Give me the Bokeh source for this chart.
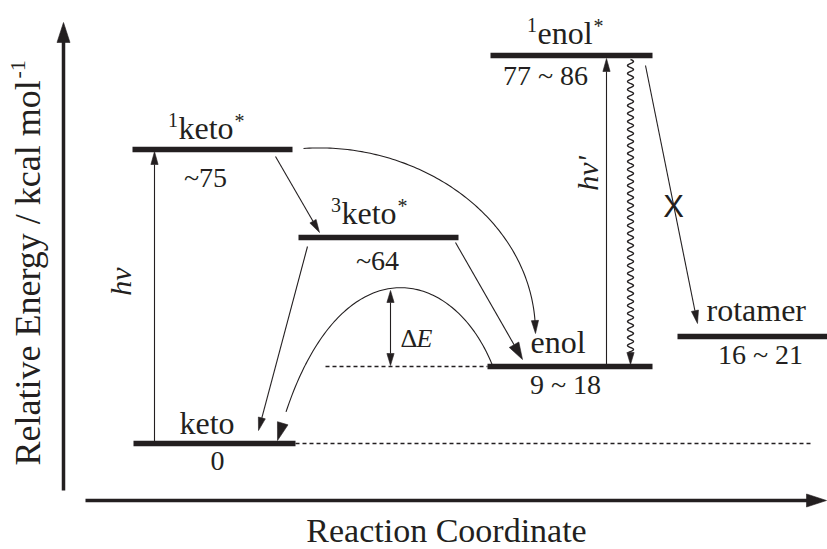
import numpy as np
from bokeh.plotting import figure
from bokeh.models import Range1d
from bokeh.core.properties import value
from bokeh.embed import file_html
from bokeh.resources import INLINE

# ---- energy levels (schematic diagram heights, y grows upward) ----
level_names = ["keto", "keto", "keto", "enol", "enol", "rotamer"]
level_spin = ["", "1", "3", "", "1", ""]
level_star = ["", "*", "*", "", "*", ""]
level_energy = ["0", "~75", "~64", "9 ~ 18", "77 ~ 86", "16 ~ 21"]
level_x0 = [133, 132, 298, 487, 490, 677]
level_x1 = [295, 292, 458, 652, 652, 827]
level_y = [106, 400, 312, 183, 494, 213]

# text baselines of each level's name and energy
name_x = [179, 178, 341, 530, 537, 706]
name_base = [116, 411, 326, 197, 506, 229]
energy_cx = [217, 205, 377, 565, 545, 760]
energy_base = [79, 362, 279, 155, 464, 185]

# ---- transitions ----
straight_from = [(275, 393), (307, 303), (455, 307), (645, 484)]
straight_to = [(319, 317), (258, 119), (522, 190), (697, 226)]
big_head = [False, False, True, False]

# curved paths as cubic Bezier control points (start, c1, c2, end)
curve_isc_enol = [(303, 401), (420, 409), (535, 329), (535, 216)]
curve_barrier = [(492, 184), (450, 289), (330, 309), (277, 109)]

INK = "#231f20"
SERIF = "Liberation Serif"
SANS = "Liberation Sans"
MID = 0.34  # distance from alphabetic baseline to em-box middle, in em

W = 827
H = 549
p = figure(width=W, height=H, x_range=Range1d(0, W), y_range=Range1d(0, H),
           output_backend="svg", toolbar_location=None, min_border=0,
           x_axis_location=None, y_axis_location=None)
p.grid.visible = False
p.outline_line_color = None
p.background_fill_color = "white"
p.border_fill_color = "white"

# Times advance widths (em) for placing superscripts
ADV = {"R": .667, "e": .444, "l": .278, "a": .444, "t": .278, "i": .278, "v": .5,
       " ": .25, "E": .611, "n": .5, "r": .333, "g": .5, "y": .5, "/": .278,
       "k": .5, "c": .444, "m": .778, "o": .5, "1": .5, "-": .333, "3": .5}


def text_width(s, size):
    return sum(ADV.get(ch, .5) for ch in s) * size


def put_text(xs, bases, texts, size, align="left", style="normal", font=SERIF):
    ys = [b + MID * size for b in bases]
    p.text(x=xs, y=ys, text=texts, text_font=value(font), text_font_size=f"{size}px",
           text_font_style=style, text_align=align, text_baseline="middle",
           text_color=INK)


heads_x, heads_y = [], []


def add_head(tip, frm, length=13, half=3.6):
    tx, ty = tip
    dx, dy = tx - frm[0], ty - frm[1]
    n = np.hypot(dx, dy)
    dx, dy = dx / n, dy / n
    bx, by = tx - length * dx, ty - length * dy
    heads_x.append([tx, bx - half * dy, bx + half * dy])
    heads_y.append([ty, by + half * dx, by - half * dx])
    return bx, by


def bezier(ctrl, n=120):
    t = np.linspace(0, 1, n)[:, None]
    P = np.array(ctrl, dtype=float)
    pts = ((1 - t) ** 3) * P[0] + 3 * ((1 - t) ** 2) * t * P[1] + 3 * (1 - t) * t ** 2 * P[2] + t ** 3 * P[3]
    return pts[:, 0], pts[:, 1]


# ---- axes drawn as arrows ----
p.line([63, 63], [59, 512], line_color=INK, line_width=3.5)
add_head((63, 527), (63, 59), length=20, half=6.5)
p.line([85, 810], [49, 49], line_color=INK, line_width=3.5)
add_head((826, 49), (85, 49), length=20, half=6.5)

# ---- dashed reference lines ----
p.line([295, 810], [106, 106], line_color=INK, line_width=1.4, line_dash="4 3")
p.line([325, 487], [183, 183], line_color=INK, line_width=1.4, line_dash="4 3")

# ---- energy levels ----
p.segment(x0=level_x0, y0=level_y, x1=level_x1, y1=level_y, line_color=INK, line_width=5.5)

NAME_SIZE = 32
SUP_SIZE = 20
ENERGY_SIZE = 28
put_text(name_x, name_base, level_names, NAME_SIZE)
sup_x, sup_b, sup_t, star_x, star_b, star_t = [], [], [], [], [], []
for nm, sp, st, x, b in zip(level_names, level_spin, level_star, name_x, name_base):
    if sp:
        sup_x.append(x - 0.5)
        sup_b.append(b + 12)
        sup_t.append(sp)
    if st:
        star_x.append(x + text_width(nm, NAME_SIZE) + 1)
        star_b.append(b + 11)
        star_t.append(st)
put_text(sup_x, sup_b, sup_t, SUP_SIZE, align="right")
put_text(star_x, star_b, star_t, SUP_SIZE)
put_text(energy_cx, energy_base, level_energy, ENERGY_SIZE, align="center")

# ---- vertical absorptions hv and hv' ----
bx, by = add_head((154, 398), (154, 106))
p.line([154, 154], [106, by], line_color=INK, line_width=1.1)
bx, by = add_head((606, 491), (606, 183))
p.line([606, 606], [183, by], line_color=INK, line_width=1.1)

# ---- straight transitions ----
for (fx, fy), (tx, ty), big in zip(straight_from, straight_to, big_head):
    if big:
        bx, by = add_head((tx, ty), (fx, fy), length=17, half=5.5)
    else:
        bx, by = add_head((tx, ty), (fx, fy))
    p.line([fx, bx], [fy, by], line_color=INK, line_width=1.1)

# ---- curved transitions ----
cx_, cy_ = bezier(curve_isc_enol)
p.line(cx_[:-4], cy_[:-4], line_color=INK, line_width=1.1)
add_head((cx_[-1], cy_[-1]), (cx_[-6], cy_[-6]), length=13, half=3.6)

bx_, by_ = bezier(curve_barrier)
p.line(bx_[:-6], by_[:-6], line_color=INK, line_width=1.1)
add_head((bx_[-1], by_[-1]), (bx_[-8], by_[-8]), length=18, half=5.5)

# ---- barrier height ΔE ----
b1 = add_head((390, 259), (390, 184), length=12, half=3.6)
b2 = add_head((390, 184), (390, 259), length=12, half=3.6)
p.line([390, 390], [b2[1], b1[1]], line_color=INK, line_width=1.1)

# ---- radiationless decay 1enol* -> enol (wavy) ----
wy = np.linspace(490, 197, 800)
wx = 630 + 3.0 * np.sin(2 * np.pi * (490 - wy) / 8.0)
p.line(wx, wy, line_color=INK, line_width=1.4)
add_head((630, 185), (630, 300), length=12, half=3.6)

p.patches(heads_x, heads_y, fill_color=INK, line_color=INK, line_width=0.6)

# ---- annotations ----
p.text(x=[120], y=[268], text=["hν"], angle=np.pi / 2, text_font=value(SERIF),
       text_font_style="italic", text_font_size="30px", text_align="center",
       text_baseline="middle", text_color=INK)
p.text(x=[587], y=[376], text=["hν'"], angle=np.pi / 2, text_font=value(SERIF),
       text_font_style="italic", text_font_size="30px", text_align="center",
       text_baseline="middle", text_color=INK)
put_text([400], [202], ["Δ"], 26)
put_text([400 + 0.612 * 26], [202], ["E"], 26, style="italic")
p.text(x=[673], y=[343], text=["X"], text_font=value(SANS),
       text_font_size="31px", text_align="center", text_baseline="middle", text_color=INK)

# axis titles
YLAB = "Relative Energy / kcal mol"
YSIZE = 36
p.text(x=[27], y=[84], text=[YLAB], angle=np.pi / 2, text_font=value(SERIF),
       text_font_size=f"{YSIZE}px", text_align="left", text_baseline="middle", text_color=INK)
p.text(x=[17], y=[84 + text_width(YLAB, YSIZE) + 1], text=["-1"], angle=np.pi / 2,
       text_font=value(SERIF), text_font_size="22px", text_align="left",
       text_baseline="middle", text_color=INK)
p.text(x=[446], y=[19], text=["Reaction Coordinate"], text_font=value(SERIF),
       text_font_size="34px", text_align="center", text_baseline="middle", text_color=INK)

open("out.html", "w").write(file_html(p, INLINE))
